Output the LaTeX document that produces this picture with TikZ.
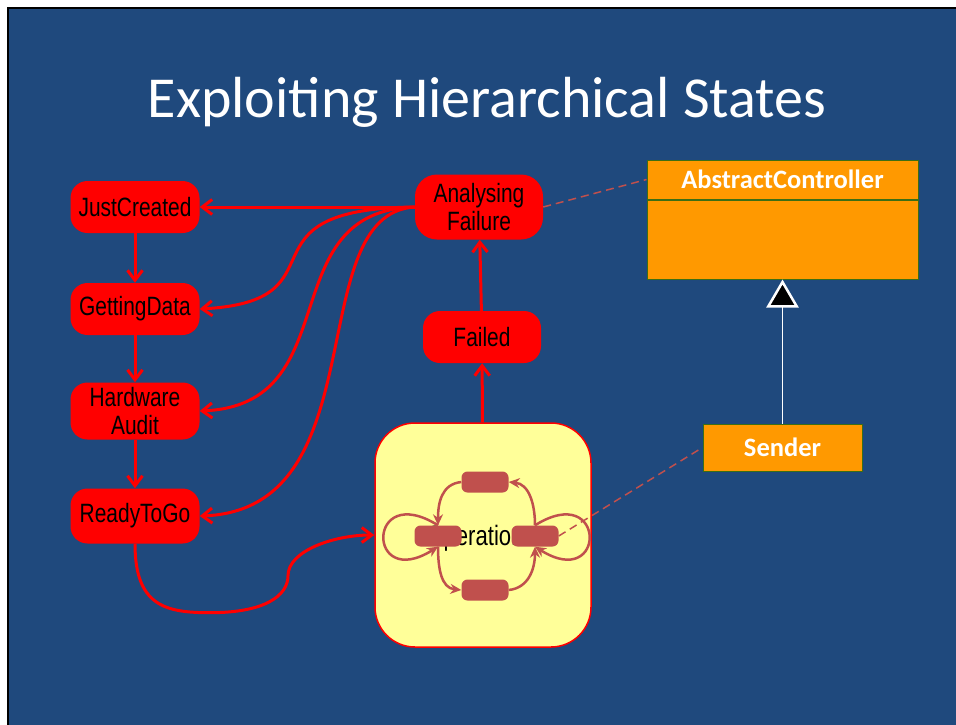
\documentclass[tikz,border=0pt]{standalone}
\usepackage{fontspec}
\setmainfont{Carlito}
\newfontfamily\narrowfont[FakeStretch=0.79]{Liberation Sans}
\usetikzlibrary{arrows.meta}

\definecolor{slideblue}{RGB}{31,73,125}
\definecolor{statered}{RGB}{255,0,0}
\definecolor{superyellow}{RGB}{255,255,153}
\definecolor{subred}{RGB}{192,80,77}
\definecolor{classorange}{RGB}{255,153,0}
\definecolor{classedge}{RGB}{60,110,20}

\begin{document}
\begin{tikzpicture}[x=1pt, y=-1pt,
    state/.style={fill=statered, rounded corners=17pt, minimum width=129pt, minimum height=52pt,
        inner sep=0pt, align=center, font=\narrowfont\fontsize{26.5}{28}\selectfont},
    substate/.style={fill=subred, rounded corners=6pt, minimum width=47pt, minimum height=21pt, inner sep=0pt},
    trans/.style={draw=statered, line width=3pt, -{Straight Barb[length=10pt,width=15pt]}},
    subtrans/.style={draw=subred, line width=2.5pt, -{Stealth[length=11pt,width=10pt]}},
    link/.style={draw=subred, line width=1.5pt, dash pattern=on 8pt off 5pt},
    umlclass/.style={fill=classorange, draw=classedge, line width=1pt, inner sep=0pt,
        text=white, font=\bfseries\fontsize{26.5}{28}\selectfont}]

    % Slide
    \useasboundingbox (0,0) rectangle (956,724);
    \fill[white] (0,0) rectangle (956,724);
    \filldraw[fill=slideblue, draw=black, line width=2.5pt] (8,8) rectangle (975,745);
    \node[text=white, font=\fontsize{58}{60}\selectfont, anchor=base] (title) at (487,117)
        {Exploiting Hierarchical States};

    % Top level states
    \node[state] (jc) at (135,207) {JustCreated};
    \node[state] (gd) at (135,309) {GettingData};
    \node[state, minimum height=57pt] (ha) at (135,411) {Hardware\\Audit};
    \node[state, minimum height=55pt] (rtg) at (135,516) {ReadyToGo};
    \node[state, minimum width=128pt, minimum height=65pt, rounded corners=22pt] (af) at (479,207) {Analysing\\Failure};
    \node[state, minimum width=118pt] (fd) at (482,337) {Failed};

    % Operation super state
    \node[fill=superyellow, draw=statered, line width=1.5pt, rounded corners=40pt,
        minimum width=216pt, minimum height=224pt] (op) at (483,535) {};
    \node[font=\narrowfont\fontsize{28}{30}\selectfont] (oplabel) at (475,538) {Operation};
    \node[substate] (sTop) at (485,482) {};
    \node[substate] (sLeft) at (438,536) {};
    \node[substate] (sRight) at (535,536) {};
    \node[substate] (sBottom) at (485,590) {};

    % Inner transitions
    \draw[subtrans] (sTop.west) .. controls +(-20,2) and +(0,-22) .. (sLeft.north);
    \draw[subtrans] (sLeft.south) .. controls +(0,22) and +(-20,-2) .. (sBottom.west);
    \draw[subtrans] (sBottom.east) .. controls +(20,-2) and +(0,22) .. (sRight.south);
    \draw[subtrans] (sRight.north) .. controls +(0,-22) and +(20,2) .. (sTop.east);
    \draw[subtrans] (sLeft.north) .. controls +(-72,-45) and +(-72,45) .. (sLeft.south);
    \draw[subtrans] (sRight.north) .. controls +(72,-45) and +(72,45) .. (sRight.south);

    % Top level transitions
    \draw[trans] (jc) -- (gd);
    \draw[trans] (gd) -- (ha);
    \draw[trans] (ha) -- (rtg);
    \draw[trans] (af) -- (jc);
    \draw[trans] (af.west) .. controls +(-185,2) and +(150,-8) .. (gd.east);
    \draw[trans] (af.west) .. controls +(-145,4) and +(150,-6) .. (ha.east);
    \draw[trans] (af.west) .. controls +(-115,7) and +(180,-6) .. (rtg.east);
    \draw[trans] (rtg.south) .. controls +(0,62) and +(-45,0) .. ++(75,69)
        .. controls +(55,0) and +(0,20) .. ++(78,-37)
        .. controls +(0,-25) and +(-40,0) .. (op.west);
    \draw[trans] (op) -- (fd);
    \draw[trans] (fd) -- (af);

    % Classes
    \node[umlclass, minimum width=271pt, minimum height=39pt] (acname) at (782.5,179.5) {AbstractController};
    \node[umlclass, minimum width=271pt, minimum height=79pt, anchor=north] (acbody) at (acname.south) {};
    \node[umlclass, minimum width=159pt, minimum height=47pt] (sender) at (782.5,447.5) {Sender};
    \draw[white, line width=1.5pt, -{Triangle[length=28pt,width=32pt,fill=black,line width=2.5pt]}] (sender) -- (acbody);

    % Links from states to classes
    \draw[link] (af.east) -- (acname.west);
    \draw[link] (sRight.east) -- (sender.west);
\end{tikzpicture}
\end{document}
